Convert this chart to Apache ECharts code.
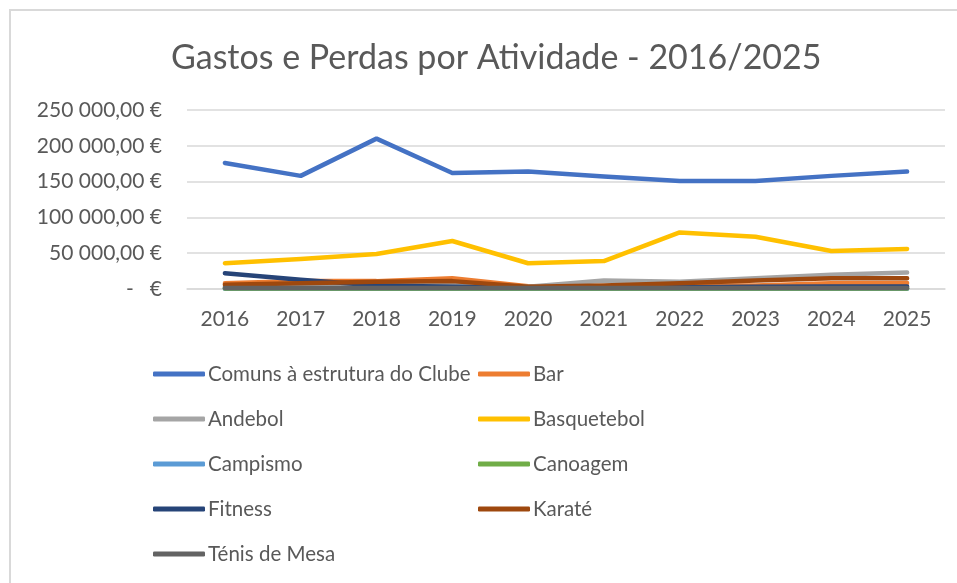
<!DOCTYPE html>
<html>
<head>
<meta charset="utf-8">
<script src="https://cdn.jsdelivr.net/npm/echarts@6/dist/echarts.min.js"></script>
<style>
  html, body { margin: 0; padding: 0; background: #fff; }
  #main { width: 957px; height: 583px; }
</style>
</head>
<body>
<div id="main"></div>
<script>
// anos
var anos = ['2016', '2017', '2018', '2019', '2020', '2021', '2022', '2023', '2024', '2025'];

// valores (euros)
var comuns      = [176000, 158000, 210000, 162000, 164000, 157000, 151000, 151000, 158000, 164000];
var bar         = [8000, 11000, 11000, 15000, 4000, 3000, 5000, 5000, 8000, 8500];
var andebol     = [3000, 6000, 7000, 8000, 3000, 12000, 10000, 15000, 20000, 23000];
var basquetebol = [36000, 42000, 49000, 67000, 36000, 39000, 79000, 73000, 53000, 56000];
var campismo    = [500, 500, 500, 500, 500, 500, 500, 500, 500, 500];
var canoagem    = [800, 800, 800, 800, 800, 800, 800, 800, 800, 800];
var fitness     = [22000, 13000, 5000, 3000, 2000, 2000, 2500, 3000, 3500, 3500];
var karate      = [6000, 8000, 10000, 11000, 3000, 5000, 8000, 12000, 15000, 15000];
var tenis       = [1500, 1500, 1500, 1500, 1500, 1500, 1500, 1500, 1500, 1500];

var nomes = ['Comuns à estrutura do Clube', 'Bar', 'Andebol', 'Basquetebol', 'Campismo',
             'Canoagem', 'Fitness', 'Karaté', 'Ténis de Mesa'];
var cores = ['#4472C4', '#ED7D31', '#A5A5A5', '#FFC000', '#5B9BD5',
             '#70AD47', '#264478', '#9E480E', '#636363'];
var dados = [comuns, bar, andebol, basquetebol, campismo, canoagem, fitness, karate, tenis];

var fonte = 'Lato, "Open Sans", sans-serif';

function euro(v) {
    if (v == 0) return '-   €';
    var s = String(Math.round(v)).replace(/\B(?=(\d{3})+(?!\d))/g, ' ');
    return s + ',00 €';
}

var series = [];
for (var i = 0; i < nomes.length; i++) {
    series.push({
        name: nomes[i],
        type: 'line',
        data: dados[i],
        symbol: 'none',
        lineStyle: { width: 4.5, color: cores[i], cap: 'round', join: 'round' },
        itemStyle: { color: cores[i] }
    });
}

function legenda(lista) {
    return lista.map(function (n) {
        return { name: n, icon: 'roundRect' };
    });
}

var legendBase = {
    orient: 'vertical',
    top: 358,
    itemWidth: 52,
    itemHeight: 5,
    itemGap: 23,
    selectedMode: false,
    textStyle: { color: '#595959', fontSize: 20.5, fontFamily: fonte, lineHeight: 22, padding: [0, 0, 0, -2] }
};

var myChart = echarts.init(document.getElementById('main'));
var option = {
    backgroundColor: '#fff',
    animation: false,
    graphic: [{
        type: 'rect',
        shape: { x: 10, y: 10, width: 1200, height: 1200 },
        style: { fill: 'none', stroke: '#D9D9D9', lineWidth: 2 }
    }],
    title: {
        text: 'Gastos e Perdas por Atividade - 2016/2025',
        left: 166,
        top: 36,
        textStyle: { color: '#595959', fontSize: 34, fontWeight: 'normal', fontFamily: fonte }
    },
    legend: [
        Object.assign({}, legendBase, { left: 148, data: legenda([nomes[0], nomes[2], nomes[4], nomes[6], nomes[8]]) }),
        Object.assign({}, legendBase, { left: 473, data: legenda([nomes[1], nomes[3], nomes[5], nomes[7]]) })
    ],
    grid: { left: 187, right: 12, top: 110, bottom: 294 },
    xAxis: {
        type: 'category',
        data: anos,
        boundaryGap: true,
        axisLine: { show: true, lineStyle: { color: '#D9D9D9', width: 1.5 } },
        axisTick: { show: false },
        axisLabel: { color: '#595959', fontSize: 21, fontFamily: fonte, margin: 20 }
    },
    yAxis: {
        type: 'value',
        min: 0,
        max: 250000,
        interval: 50000,
        axisLine: { show: false },
        axisTick: { show: false },
        splitLine: { lineStyle: { color: '#D9D9D9', width: 1.5 } },
        axisLabel: { color: '#595959', fontSize: 21, fontFamily: fonte, margin: 25, formatter: euro }
    },
    series: series
};
myChart.setOption(option);
</script>
</body>
</html>
